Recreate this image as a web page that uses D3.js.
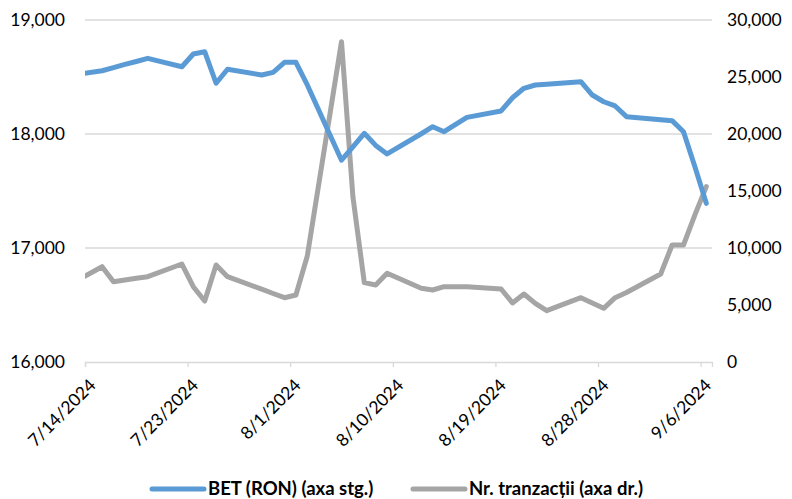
<!DOCTYPE html>
<html>
<head>
<meta charset="utf-8">
<script src="https://cdn.jsdelivr.net/npm/d3@7"></script>
<style>
  html, body { margin: 0; padding: 0; background: #fff; }
  svg { display: block; }
  text { font-family: Lato, "Open Sans", sans-serif; fill: #000; }
</style>
</head>
<body>
<svg id="chart" width="792" height="499"></svg>
<script>
// ---- DATA ----
const dates = ["2024-07-12","2024-07-15","2024-07-16","2024-07-17","2024-07-18","2024-07-19",
  "2024-07-22","2024-07-23","2024-07-24","2024-07-25","2024-07-26",
  "2024-07-29","2024-07-30","2024-07-31","2024-08-01","2024-08-02",
  "2024-08-05","2024-08-06","2024-08-07","2024-08-08","2024-08-09",
  "2024-08-12","2024-08-13","2024-08-14","2024-08-16",
  "2024-08-19","2024-08-20","2024-08-21","2024-08-22","2024-08-23",
  "2024-08-26","2024-08-27","2024-08-28","2024-08-29","2024-08-30",
  "2024-09-02","2024-09-03","2024-09-04","2024-09-05","2024-09-06"];
const betValues = [18510,18555,18583,18610,18636,18664,
  18590,18702,18722,18445,18568,
  18518,18541,18629,18629,18430,
  17770,17887,18006,17900,17825,
  18002,18064,18020,18146,
  18202,18318,18401,18430,18437,
  18459,18342,18283,18246,18152,
  18126,18117,18020,17713,17392];
const tranzValues = [6710,8360,7045,7200,7350,7483,
  8596,6605,5351,8509,7483,
  6386,6009,5640,5877,9300,
  28100,14500,6959,6754,7778,
  6462,6316,6608,6608,
  6404,5180,5965,5146,4503,
  5643,5175,4708,5643,6096,
  7719,10263,10263,12900,15380];
const xTickLabels = ["7/14/2024","7/23/2024","8/1/2024","8/10/2024","8/19/2024","8/28/2024","9/6/2024"];
const leftTicks = [16000,17000,18000,19000];
const rightTicks = [0,5000,10000,15000,20000,25000,30000];
const seriesNames = ["BET (RON) (axa stg.)","Nr. tranzacții (axa dr.)"];
const axisStart = "2024-07-14", axisEnd = "2024-09-07";

// ---- LAYOUT ----
const svg = d3.select("#chart");
const plot = {left: 85, right: 712, top: 20, bottom: 362};
const parse = d3.utcParse("%Y-%m-%d");
const parseTick = d3.utcParse("%m/%d/%Y");
const x = d3.scaleUtc().domain([parse(axisStart), parse(axisEnd)]).range([plot.left, plot.right]);
const yL = d3.scaleLinear().domain([16000,19000]).range([plot.bottom, plot.top]);
const yR = d3.scaleLinear().domain([0,30000]).range([plot.bottom, plot.top]);
const fmt = d3.format(",");
const gridColor = "#D9D9D9";

// gridlines
svg.append("g").selectAll("line").data(leftTicks.slice(1)).join("line")
  .attr("x1", plot.left).attr("x2", plot.right)
  .attr("y1", d => yL(d)).attr("y2", d => yL(d))
  .attr("stroke", gridColor).attr("stroke-width", 1.3);

// x axis
const tickDates = xTickLabels.map(parseTick);
const xAxis = d3.axisBottom(x).tickValues(tickDates).tickSize(5).tickFormat((d,i) => xTickLabels[i]);
const gx = svg.append("g").attr("transform", `translate(0,${plot.bottom})`).call(xAxis);
gx.select(".domain").attr("stroke", gridColor).attr("stroke-width", 1.3);
gx.selectAll(".tick line").attr("stroke", gridColor).attr("stroke-width", 1.3);
gx.selectAll(".tick text")
  .attr("font-size", 17.5).attr("font-family", "Lato, sans-serif")
  .attr("text-anchor", "end")
  .attr("dy", "0.35em").attr("y", 0)
  .attr("transform", "translate(7,20) rotate(-45)");

// left axis
const gl = svg.append("g").attr("transform", `translate(${plot.left},0)`)
  .call(d3.axisLeft(yL).tickValues(leftTicks).tickSize(0).tickPadding(20).tickFormat(fmt));
gl.select(".domain").remove();
gl.selectAll("text").attr("font-size", 17.5).attr("font-family", "Lato, sans-serif");

// right axis
const gr = svg.append("g").attr("transform", `translate(${plot.right},0)`)
  .call(d3.axisRight(yR).tickValues(rightTicks).tickSize(0).tickPadding(15).tickFormat(fmt));
gr.select(".domain").remove();
gr.selectAll("text").attr("font-size", 17.5).attr("font-family", "Lato, sans-serif");

// clip
svg.append("clipPath").attr("id", "clip").append("rect")
  .attr("x", plot.left).attr("y", 0).attr("width", plot.right - plot.left).attr("height", 499);

const pts = dates.map((d,i) => ({t: d3.utcHour.offset(parse(d), 12), bet: betValues[i], tr: tranzValues[i]}));
const lineBet = d3.line().x(d => x(d.t)).y(d => yL(d.bet));
const lineTr = d3.line().x(d => x(d.t)).y(d => yR(d.tr));
const g = svg.append("g").attr("clip-path", "url(#clip)");
g.append("path").datum(pts).attr("d", lineTr).attr("fill", "none")
  .attr("stroke", "#A5A5A5").attr("stroke-width", 5).attr("stroke-linejoin", "round").attr("stroke-linecap", "round");
g.append("path").datum(pts).attr("d", lineBet).attr("fill", "none")
  .attr("stroke", "#5B9BD5").attr("stroke-width", 5).attr("stroke-linejoin", "round").attr("stroke-linecap", "round");

// legend
const legend = svg.append("g").attr("transform", "translate(0,489)");
const legItems = [{name: seriesNames[0], color: "#5B9BD5", x: 152}, {name: seriesNames[1], color: "#A5A5A5", x: 413}];
legItems.forEach(it => {
  legend.append("line").attr("x1", it.x).attr("x2", it.x + 52).attr("y1", 0).attr("y2", 0)
    .attr("stroke", it.color).attr("stroke-width", 5).attr("stroke-linecap", "round");
  legend.append("text").attr("x", it.x + 56).attr("y", 0).attr("dy", "0.35em")
    .attr("font-size", 18.5).attr("font-weight", "bold").text(it.name);
});
</script>
</body>
</html>
